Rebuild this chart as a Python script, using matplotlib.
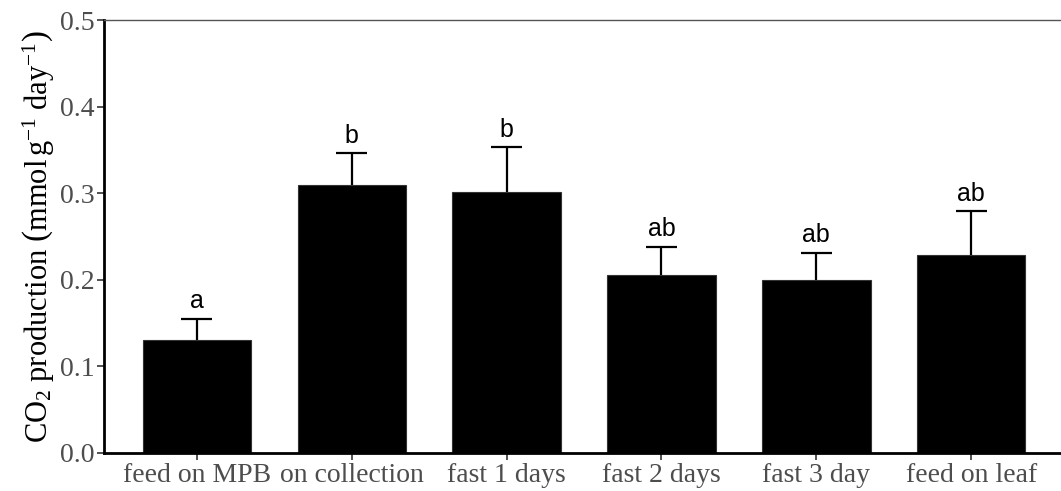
import matplotlib
matplotlib.use("Agg")
import matplotlib.pyplot as plt
import numpy as np

plt.rcParams["mathtext.fontset"] = "custom"
plt.rcParams["mathtext.rm"] = "Liberation Serif"
plt.rcParams["mathtext.it"] = "Liberation Serif:italic"
plt.rcParams["mathtext.bf"] = "Liberation Serif:bold"

categories = ["feed on MPB", "on collection", "fast 1 days", "fast 2 days", "fast 3 day", "feed on leaf"]
means = [0.131, 0.310, 0.301, 0.205, 0.200, 0.229]
err_top = [0.155, 0.346, 0.353, 0.238, 0.231, 0.279]
letters = ["a", "b", "b", "ab", "ab", "ab"]
yticks = [0.0, 0.1, 0.2, 0.3, 0.4, 0.5]

fig = plt.figure(figsize=(10.61, 4.91), dpi=100)
ax = fig.add_axes([104/1061, 38/491, 1 - 104/1061, 433/491])

x = np.arange(len(categories))
ax.bar(x, means, width=0.7, color="black", edgecolor="#333333", linewidth=0.8, zorder=2)
ax.vlines(x, means, err_top, color="black", linewidth=1.6, zorder=3)
ax.hlines(err_top, x - 0.1, x + 0.1, color="black", linewidth=1.6, zorder=3)
for xi, t, lab in zip(x, err_top, letters):
    ax.annotate(lab, (xi, t), xytext=(0, 4), textcoords="offset points", ha="center", va="bottom",
                fontsize=18, family="Liberation Sans", color="black")

ax.set_xlim(-0.6, 5.58)
ax.set_ylim(0, 0.5)
ax.set_yticks(yticks)
ax.set_yticklabels([f"{v:.1f}" for v in yticks])
ax.set_xticks(x)
ax.set_xticklabels(categories)

for lab in ax.get_xticklabels() + ax.get_yticklabels():
    lab.set_family("Liberation Serif")
    lab.set_fontsize(20)
    lab.set_color("#4d4d4d")
ax.tick_params(axis="both", direction="out", length=5, width=1.2, color="#333333", pad=2)

ax.spines["right"].set_visible(False)
ax.spines["top"].set_color("#555555")
ax.spines["top"].set_linewidth(1.0)
ax.spines["left"].set_linewidth(2.0)
ax.spines["bottom"].set_linewidth(2.0)
ax.spines["left"].set_color("black")
ax.spines["bottom"].set_color("black")

ax.set_ylabel(r"CO$_2$ production $\left(\mathrm{mmol\,g^{-1}\ day^{-1}}\right)$",
              family="Liberation Serif", fontsize=22, color="black", labelpad=2)

fig.savefig("out.png", dpi=100)
